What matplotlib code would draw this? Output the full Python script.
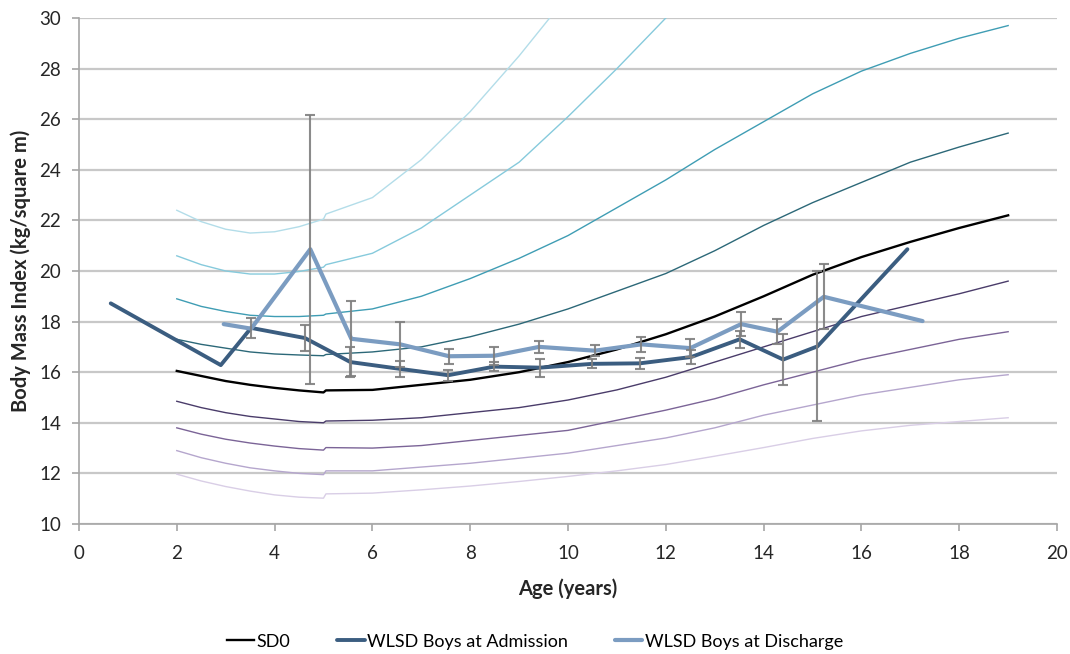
import numpy as np
import matplotlib
matplotlib.use("Agg")
import matplotlib.pyplot as plt

plt.rcParams['font.family'] = ['Lato', 'DejaVu Sans']

# reference curves (BMI-for-age, boys), small step at 5 y where the two tables join
curve_age = [2, 2.5, 3, 3.5, 4, 4.5, 5, 5.05, 6, 7, 8, 9, 10, 11, 12, 13, 14, 15, 16, 17, 18, 19]
nan = np.nan
sd_m4 = [11.97, 11.7, 11.48, 11.3, 11.15, 11.06, 11.02, 11.19, 11.22, 11.35, 11.5, 11.68, 11.88, 12.1, 12.35, 12.68, 13.02, 13.38, 13.68, 13.9, 14.05, 14.2]
sd_m3 = [12.9, 12.62, 12.4, 12.22, 12.1, 12.0, 11.95, 12.1, 12.1, 12.25, 12.4, 12.6, 12.8, 13.1, 13.4, 13.8, 14.3, 14.7, 15.1, 15.4, 15.7, 15.9]
sd_m2 = [13.8, 13.55, 13.35, 13.2, 13.08, 12.98, 12.92, 13.02, 13.0, 13.1, 13.3, 13.5, 13.7, 14.1, 14.5, 14.95, 15.5, 16.0, 16.5, 16.9, 17.3, 17.6]
sd_m1 = [14.85, 14.6, 14.4, 14.25, 14.15, 14.05, 14.0, 14.07, 14.1, 14.2, 14.4, 14.6, 14.9, 15.3, 15.8, 16.4, 17.0, 17.6, 18.2, 18.65, 19.1, 19.6]
sd_0 = [16.05, 15.85, 15.65, 15.5, 15.38, 15.28, 15.2, 15.28, 15.3, 15.5, 15.7, 16.0, 16.4, 16.9, 17.5, 18.2, 19.0, 19.85, 20.55, 21.15, 21.7, 22.2]
sd_p1 = [17.3, 17.1, 16.95, 16.8, 16.72, 16.68, 16.65, 16.7, 16.8, 17.0, 17.4, 17.9, 18.5, 19.2, 19.9, 20.8, 21.8, 22.7, 23.5, 24.3, 24.9, 25.45]
sd_p2 = [18.9, 18.6, 18.4, 18.25, 18.2, 18.2, 18.25, 18.3, 18.5, 19.0, 19.7, 20.5, 21.4, 22.5, 23.6, 24.8, 25.9, 27.0, 27.9, 28.6, 29.2, 29.7]
sd_p3 = [20.6, 20.25, 20.0, 19.88, 19.88, 19.98, 20.15, 20.25, 20.7, 21.7, 23.0, 24.3, 26.1, 28.0, 30.0, 31.7, nan, nan, nan, nan, nan, nan]
sd_p4 = [22.4, 21.95, 21.65, 21.5, 21.55, 21.75, 22.05, 22.25, 22.9, 24.4, 26.3, 28.5, 30.9, nan, nan, nan, nan, nan, nan, nan, nan, nan]

# WLSD boys, mean BMI with error bars (0 = no bar)
adm_age = [0.65, 2.9, 3.52, 4.62, 5.55, 6.57, 7.55, 8.49, 9.43, 10.5, 11.47, 12.52, 13.51, 14.4, 15.1, 16.94]
adm_bmi = [18.72, 16.28, 17.75, 17.35, 16.4, 16.13, 15.88, 16.22, 16.18, 16.33, 16.35, 16.6, 17.3, 16.5, 17.02, 20.86]
adm_err = [0, 0, 0.4, 0.53, 0.58, 0.33, 0.22, 0.18, 0.36, 0.18, 0.21, 0.26, 0.33, 1.01, 2.96, 0]

dis_age = [2.96, 3.52, 4.73, 5.57, 6.57, 7.57, 8.49, 9.41, 10.55, 11.5, 12.5, 13.54, 14.28, 15.23, 17.25]
dis_bmi = [17.9, 17.72, 20.86, 17.32, 17.1, 16.63, 16.65, 17.0, 16.85, 17.1, 16.95, 17.9, 17.6, 18.98, 18.02]
dis_err = [0, 0, 5.31, 1.48, 0.9, 0.3, 0.35, 0.25, 0.22, 0.31, 0.36, 0.47, 0.5, 1.28, 0]

fig = plt.figure(figsize=(10.7, 6.54), dpi=100)
ax = fig.add_axes([0.0738, 0.1988, 0.9141, 0.7737])

thin = [(sd_p4, '#b3dde9'), (sd_p3, '#86cadc'), (sd_p2, '#3f9db4'), (sd_p1, '#2c6878'),
        (sd_m1, '#4a3c6a'), (sd_m2, '#7b6497'), (sd_m3, '#b5a6cd'), (sd_m4, '#d9cee6')]
for vals, col in thin:
    ax.plot(curve_age, vals, color=col, lw=1.0, zorder=2)

ax.plot(curve_age, sd_0, color='black', lw=1.7, zorder=3, label='SD0')
ax.plot(adm_age, adm_bmi, color='#3b5d80', lw=2.8, zorder=4, solid_capstyle='round',
        label='WLSD Boys at Admission')
ax.plot(dis_age, dis_bmi, color='#7b9cc1', lw=3.0, zorder=4, solid_capstyle='round',
        label='WLSD Boys at Discharge')

# only draw bars where there is a spread
for age, bmi, err in [(adm_age, adm_bmi, adm_err), (dis_age, dis_bmi, dis_err)]:
    age, bmi, err = np.array(age), np.array(bmi), np.array(err)
    m = err > 0
    _, caps, bars = ax.errorbar(age[m], bmi[m], yerr=err[m], fmt='none', ecolor='#7f7f7f',
                                elinewidth=1.5, capsize=3.5, capthick=1.5, zorder=5, alpha=0.9)
    for c in caps:
        c.set_color('#4d4d4d')

ax.set_xlim(0, 20)
ax.set_ylim(10, 30)
ax.set_xticks(np.arange(0, 21, 2))
ax.set_yticks(np.arange(10, 31, 2))
ax.grid(axis='y', color='#c8c8c8', lw=1.6)
ax.set_axisbelow(True)
for s in ['top', 'right']:
    ax.spines[s].set_visible(False)
for s in ['left', 'bottom']:
    ax.spines[s].set_color('#a6a6a6')
    ax.spines[s].set_linewidth(1.2)
ax.tick_params(colors='#a6a6a6', labelcolor='#262626', labelsize=13.5, length=5, width=1.2)
ax.tick_params(axis='x', pad=10)
ax.tick_params(axis='y', pad=8)

ax.set_xlabel('Age (years)', fontsize=14.5, fontweight='bold', color='#262626', labelpad=12)
ax.set_ylabel('Body Mass Index (kg/square m)', fontsize=14.5, fontweight='bold', color='#262626', labelpad=6)

fig.legend(loc='lower center', bbox_to_anchor=(0.5, -0.018), ncol=3, frameon=False,
           fontsize=13, handlelength=1.5, handletextpad=0.15, columnspacing=2.6)

fig.savefig('out.png', dpi=100)
